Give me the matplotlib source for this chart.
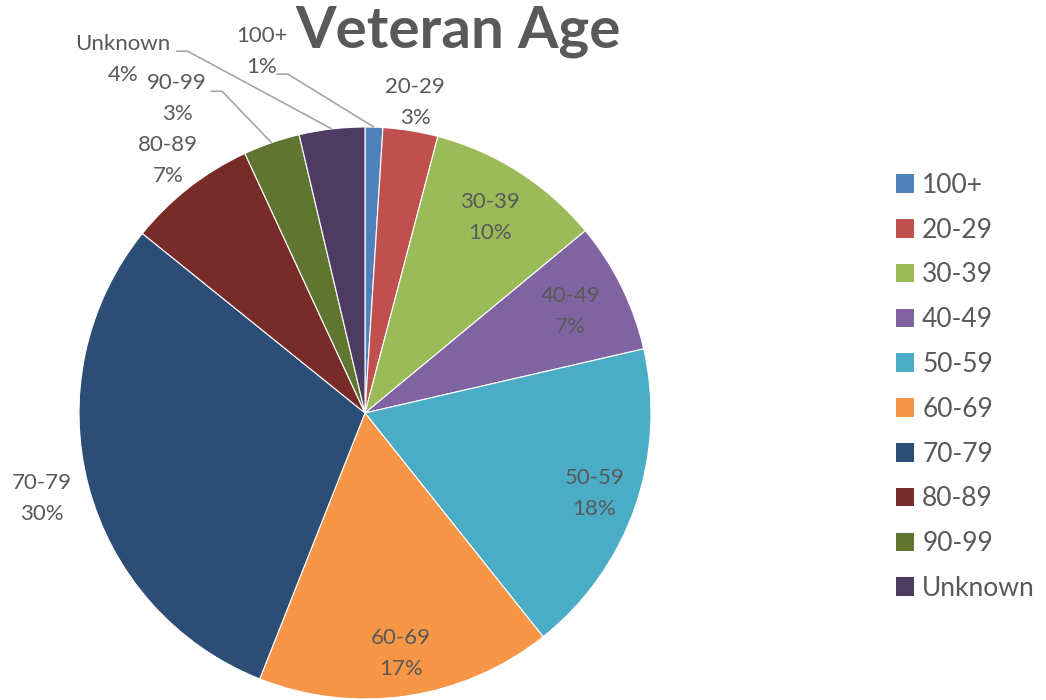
import numpy as np
import matplotlib
matplotlib.use("Agg")
import matplotlib.pyplot as plt
from matplotlib.patches import Patch

plt.rcParams['font.family'] = ['Lato', 'DejaVu Sans']

categories = ['100+', '20-29', '30-39', '40-49', '50-59', '60-69', '70-79', '80-89', '90-99', 'Unknown']
values = [1.0, 3.1, 9.9, 7.4, 17.9, 16.7, 29.8, 7.3, 3.2, 3.7]
colors = ['#4F81BD', '#C0504D', '#9BBB59', '#8064A2', '#4BACC6',
          '#F79646', '#2C4D75', '#772C2A', '#5F7530', '#4D3B62']
title = 'Veteran Age'

TXT = '#595959'
W, H = 1046, 700
fig = plt.figure(figsize=(W / 100, H / 100), dpi=100)
cx, cy, R = 365, 413, 286
ax = fig.add_axes([(cx - R) / W, (H - cy - R) / H, 2 * R / W, 2 * R / H])

wedges, _ = ax.pie(values, colors=colors, startangle=90, counterclock=False,
                   radius=1, wedgeprops=dict(linewidth=0.8, edgecolor='white'))
ax.set_xlim(-1, 1)
ax.set_ylim(-1, 1)
ax.set_aspect('equal')
ax.axis('off')
for w in wedges:
    w.set_clip_on(False)

total = sum(values)
fs = 16
placement = {
    '100+': ('lead', (-0.36, 1.265), (-0.31, 1.185)),
    '20-29': ('out', 1.10),
    '30-39': ('in', 0.81),
    '40-49': ('in', 0.80),
    '50-59': ('in', 0.85),
    '60-69': ('in', 0.85),
    '70-79': ('out', 1.17),
    '80-89': ('out', 1.12),
    '90-99': ('lead', (-0.657, 1.10), (-0.54, 1.125)),
    'Unknown': ('lead', (-0.846, 1.235), (-0.66, 1.265)),
}
cum = 0.0
for cat, v in zip(categories, values):
    mid = (cum + v / 2) / total * 2 * np.pi
    cum += v
    dx, dy = np.sin(mid), np.cos(mid)
    txt = f"{cat}\n{round(v / total * 100):d}%"
    p = placement[cat]
    if p[0] in ('in', 'out'):
        r = p[1]
        ax.text(r * dx, r * dy, txt, ha='center', va='center', fontsize=fs,
                color=TXT, linespacing=1.7, clip_on=False)
    else:
        (lx, ly), (ex, ey) = p[1], p[2]
        ax.text(lx, ly, txt, ha='center', va='center', fontsize=fs,
                color=TXT, linespacing=1.7, clip_on=False)
        ax.plot([ex, ex + 0.04, dx], [ey, ey, dy], color='#A6A6A6', lw=1.2,
                clip_on=False, solid_capstyle='butt')

fig.text(458 / W, 1 - 31 / H, title, ha='center', va='center', fontsize=42,
         fontweight='bold', color=TXT)

handles = [Patch(facecolor=c, edgecolor='none') for c in colors]
leg = fig.legend(handles, categories, loc='upper left',
                 bbox_to_anchor=(872 / W, 1 - 149 / H), frameon=False,
                 fontsize=19, labelcolor=TXT, handlelength=0.7, handleheight=0.7,
                 handletextpad=0.3, labelspacing=0.75)

fig.savefig('out.png', dpi=100)
